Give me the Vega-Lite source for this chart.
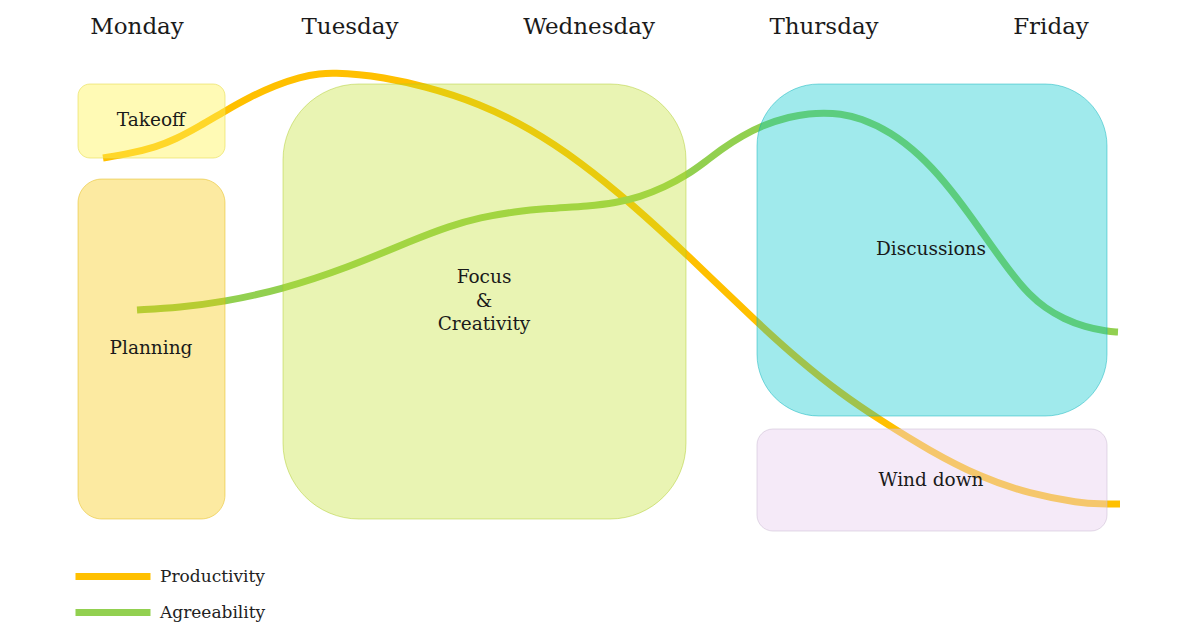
{
  "$schema": "https://vega.github.io/schema/vega-lite/v6.json",
  "width": 1200,
  "height": 630,
  "autosize": {"type": "fit", "contains": "padding"},
  "padding": 0,
  "background": "#ffffff",
  "config": {"view": {"stroke": null}},
  "datasets": {
    "lines": [
      {"series": "Productivity", "t": 103, "level": 472},
      {"series": "Productivity", "t": 130, "level": 476.5},
      {"series": "Productivity", "t": 156, "level": 483},
      {"series": "Productivity", "t": 175, "level": 490.5},
      {"series": "Productivity", "t": 200, "level": 504},
      {"series": "Productivity", "t": 225, "level": 519},
      {"series": "Productivity", "t": 250, "level": 533},
      {"series": "Productivity", "t": 275, "level": 544.5},
      {"series": "Productivity", "t": 300, "level": 553},
      {"series": "Productivity", "t": 320, "level": 556.5},
      {"series": "Productivity", "t": 335, "level": 557},
      {"series": "Productivity", "t": 360, "level": 555.5},
      {"series": "Productivity", "t": 380, "level": 553},
      {"series": "Productivity", "t": 423, "level": 544.5},
      {"series": "Productivity", "t": 480, "level": 526.5},
      {"series": "Productivity", "t": 530, "level": 501.5},
      {"series": "Productivity", "t": 580, "level": 468.5},
      {"series": "Productivity", "t": 633, "level": 425},
      {"series": "Productivity", "t": 687, "level": 375.5},
      {"series": "Productivity", "t": 757, "level": 307.5},
      {"series": "Productivity", "t": 800, "level": 269},
      {"series": "Productivity", "t": 840, "level": 237},
      {"series": "Productivity", "t": 880, "level": 210},
      {"series": "Productivity", "t": 930, "level": 179},
      {"series": "Productivity", "t": 980, "level": 153},
      {"series": "Productivity", "t": 1030, "level": 136},
      {"series": "Productivity", "t": 1080, "level": 127},
      {"series": "Productivity", "t": 1100, "level": 126},
      {"series": "Productivity", "t": 1120, "level": 126},
      {"series": "Agreeability", "t": 137, "level": 320},
      {"series": "Agreeability", "t": 180, "level": 322.5},
      {"series": "Agreeability", "t": 223, "level": 328},
      {"series": "Agreeability", "t": 280, "level": 340},
      {"series": "Agreeability", "t": 347, "level": 362},
      {"series": "Agreeability", "t": 413, "level": 390},
      {"series": "Agreeability", "t": 450, "level": 404},
      {"series": "Agreeability", "t": 480, "level": 412.5},
      {"series": "Agreeability", "t": 515, "level": 418.5},
      {"series": "Agreeability", "t": 547, "level": 421.5},
      {"series": "Agreeability", "t": 590, "level": 424},
      {"series": "Agreeability", "t": 615, "level": 427},
      {"series": "Agreeability", "t": 640, "level": 433},
      {"series": "Agreeability", "t": 665, "level": 443},
      {"series": "Agreeability", "t": 687, "level": 455},
      {"series": "Agreeability", "t": 705, "level": 468},
      {"series": "Agreeability", "t": 723, "level": 482},
      {"series": "Agreeability", "t": 742, "level": 494},
      {"series": "Agreeability", "t": 762, "level": 504.5},
      {"series": "Agreeability", "t": 790, "level": 513.5},
      {"series": "Agreeability", "t": 810, "level": 516.5},
      {"series": "Agreeability", "t": 823, "level": 517},
      {"series": "Agreeability", "t": 840, "level": 516.5},
      {"series": "Agreeability", "t": 860, "level": 512},
      {"series": "Agreeability", "t": 891, "level": 498},
      {"series": "Agreeability", "t": 920, "level": 475},
      {"series": "Agreeability", "t": 945, "level": 448},
      {"series": "Agreeability", "t": 970, "level": 415},
      {"series": "Agreeability", "t": 993, "level": 382},
      {"series": "Agreeability", "t": 1015, "level": 352},
      {"series": "Agreeability", "t": 1029, "level": 336},
      {"series": "Agreeability", "t": 1045, "level": 322},
      {"series": "Agreeability", "t": 1064, "level": 311},
      {"series": "Agreeability", "t": 1085, "level": 303},
      {"series": "Agreeability", "t": 1107, "level": 298.5},
      {"series": "Agreeability", "t": 1118, "level": 298}
    ],
    "boxes": [
      {"name": "Takeoff", "t0": 78, "t1": 225, "lo": 472, "hi": 546},
      {"name": "Planning", "t0": 78, "t1": 225, "lo": 111, "hi": 451},
      {"name": "Focus", "t0": 283, "t1": 686, "lo": 111, "hi": 546},
      {"name": "Discussions", "t0": 757, "t1": 1107, "lo": 214, "hi": 546},
      {"name": "Wind down", "t0": 757, "t1": 1107, "lo": 99, "hi": 201}
    ],
    "labels": [
      {"text": "Takeoff", "t": 151, "level": 510},
      {"text": "Planning", "t": 151, "level": 282},
      {"text": "Focus\n&\nCreativity", "t": 484, "level": 353},
      {"text": "Discussions", "t": 931, "level": 381},
      {"text": "Wind down", "t": 931, "level": 150}
    ],
    "days": [
      {"day": "Monday", "t": 137, "level": 603},
      {"day": "Tuesday", "t": 350, "level": 603},
      {"day": "Wednesday", "t": 589, "level": 603},
      {"day": "Thursday", "t": 824, "level": 603},
      {"day": "Friday", "t": 1051, "level": 603}
    ]
  },
  "layer": [
    {
      "data": {"name": "lines"},
      "mark": {"type": "line", "interpolate": "basis", "strokeWidth": 7, "strokeCap": "butt"},
      "encoding": {
        "x": {"field": "t", "type": "quantitative", "scale": {"domain": [0, 1200], "nice": false, "zero": false}, "axis": null},
        "y": {"field": "level", "type": "quantitative", "scale": {"domain": [0, 630], "nice": false, "zero": false}, "axis": null},
        "color": {
          "field": "series",
          "type": "nominal",
          "scale": {"domain": ["Productivity", "Agreeability"], "range": ["#FFC000", "#92D050"]},
          "legend": {
            "orient": "none",
            "legendX": 91.5,
            "legendY": 555,
            "title": null,
            "symbolType": "M-2.0833,0H2.0833",
            "symbolSize": 1296,
            "symbolStrokeWidth": 7,
            "labelOffset": 25.5,
            "labelFont": "DejaVu Serif",
            "labelFontSize": 17,
            "labelColor": "#222222",
            "rowPadding": 0,
            "padding": 0
          }
        }
      }
    },
    {
      "data": {"name": "boxes"},
      "transform": [{"filter": "datum.name === 'Takeoff'"}],
      "mark": {"type": "rect", "cornerRadius": 12, "fill": "#fff35a", "fillOpacity": 0.45, "stroke": "#e6dc50", "strokeOpacity": 0.6, "strokeWidth": 1},
      "encoding": {
        "x": {"field": "t0", "type": "quantitative"},
        "x2": {"field": "t1"},
        "y": {"field": "lo", "type": "quantitative"},
        "y2": {"field": "hi"}
      }
    },
    {
      "data": {"name": "boxes"},
      "transform": [{"filter": "datum.name === 'Planning'"}],
      "mark": {"type": "rect", "cornerRadius": 24, "fill": "#f7c500", "fillOpacity": 0.37, "stroke": "#e0b400", "strokeOpacity": 0.45, "strokeWidth": 1},
      "encoding": {
        "x": {"field": "t0", "type": "quantitative"},
        "x2": {"field": "t1"},
        "y": {"field": "lo", "type": "quantitative"},
        "y2": {"field": "hi"}
      }
    },
    {
      "data": {"name": "boxes"},
      "transform": [{"filter": "datum.name === 'Focus'"}],
      "mark": {"type": "rect", "cornerRadius": 76, "fill": "#c0e026", "fillOpacity": 0.35, "stroke": "#a8c820", "strokeOpacity": 0.45, "strokeWidth": 1},
      "encoding": {
        "x": {"field": "t0", "type": "quantitative"},
        "x2": {"field": "t1"},
        "y": {"field": "lo", "type": "quantitative"},
        "y2": {"field": "hi"}
      }
    },
    {
      "data": {"name": "boxes"},
      "transform": [{"filter": "datum.name === 'Discussions'"}],
      "mark": {"type": "rect", "cornerRadius": 62, "fill": "#02c7cc", "fillOpacity": 0.376, "stroke": "#02b0b8", "strokeOpacity": 0.45, "strokeWidth": 1},
      "encoding": {
        "x": {"field": "t0", "type": "quantitative"},
        "x2": {"field": "t1"},
        "y": {"field": "lo", "type": "quantitative"},
        "y2": {"field": "hi"}
      }
    },
    {
      "data": {"name": "boxes"},
      "transform": [{"filter": "datum.name === 'Wind down'"}],
      "mark": {"type": "rect", "cornerRadius": 16, "fill": "#e8d0f0", "fillOpacity": 0.45, "stroke": "#c8b8d0", "strokeOpacity": 0.5, "strokeWidth": 1},
      "encoding": {
        "x": {"field": "t0", "type": "quantitative"},
        "x2": {"field": "t1"},
        "y": {"field": "lo", "type": "quantitative"},
        "y2": {"field": "hi"}
      }
    },
    {
      "data": {"name": "labels"},
      "mark": {"type": "text", "font": "DejaVu Serif", "fontSize": 18.5, "color": "#1a1a1a", "align": "center", "baseline": "middle", "lineBreak": "\n", "lineHeight": 23.5},
      "encoding": {
        "x": {"field": "t", "type": "quantitative"},
        "y": {"field": "level", "type": "quantitative"},
        "text": {"field": "text"}
      }
    },
    {
      "data": {"name": "days"},
      "mark": {"type": "text", "font": "DejaVu Serif", "fontSize": 23, "color": "#1a1a1a", "align": "center", "baseline": "middle"},
      "encoding": {
        "x": {"field": "t", "type": "quantitative"},
        "y": {"field": "level", "type": "quantitative"},
        "text": {"field": "day"}
      }
    }
  ]
}
